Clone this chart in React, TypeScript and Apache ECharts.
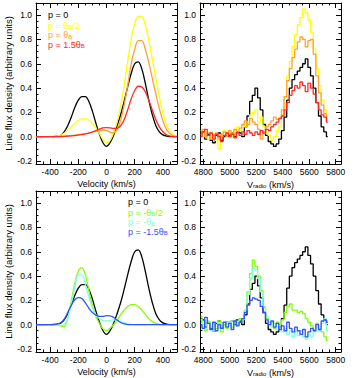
import React, { useEffect, useRef } from 'react';
import * as echarts from 'echarts';

// ---------- model curves (left panels) ----------
const VEL = [
  -500, -475, -450, -425, -400, -375, -350, -325, -300, -275, -250, -225, -200, -175, -150, -125, -100, -75, -50, -25,
  0, 25, 50, 75, 100, 125, 150, 175, 200, 225, 250, 275, 300, 325, 350, 375, 400, 425, 450, 475, 500,
];
const MODEL_P0 = [
  0, 0, 0, 0, 0, 0.001, 0.004, 0.012, 0.04, 0.09, 0.16, 0.24, 0.3, 0.33, 0.33, 0.29, 0.21, 0.11, 0.02, -0.05,
  -0.08, -0.05, 0.01, 0.09, 0.18, 0.29, 0.41, 0.52, 0.6, 0.615, 0.56, 0.44, 0.3, 0.18, 0.09, 0.04, 0.015, 0.005, 0.001, 0, 0,
];
const MODEL_HALF = [
  0, 0, 0, 0, 0, 0.001, 0.004, 0.012, 0.028, 0.052, 0.08, 0.108, 0.132, 0.147, 0.148, 0.135, 0.108, 0.07, 0.025, -0.025,
  -0.05, -0.03, 0.03, 0.12, 0.25, 0.42, 0.62, 0.8, 0.93, 0.99, 0.99, 0.92, 0.79, 0.64, 0.48, 0.33, 0.2, 0.1, 0.045, 0.015, 0.004,
];
const MODEL_ONE = [
  0, 0, 0, 0, 0, 0, 0, 0.002, 0.004, 0.006, 0.009, 0.012, 0.016, 0.02, 0.025, 0.031, 0.038, 0.045, 0.052, 0.055,
  0.05, 0.038, 0.03, 0.06, 0.13, 0.26, 0.42, 0.6, 0.72, 0.79, 0.79, 0.72, 0.61, 0.48, 0.35, 0.23, 0.13, 0.06, 0.025, 0.008, 0.002,
];
const MODEL_ONEHALF = [
  0, 0, 0, 0, 0, 0, 0, 0.001, 0.002, 0.004, 0.006, 0.009, 0.012, 0.017, 0.023, 0.03, 0.038, 0.05, 0.062, 0.072,
  0.075, 0.073, 0.068, 0.068, 0.09, 0.14, 0.22, 0.31, 0.38, 0.415, 0.41, 0.37, 0.3, 0.22, 0.14, 0.08, 0.04, 0.015, 0.005, 0.001, 0,
];
const MODEL_NHALF = [
  0, 0, 0, 0, 0, 0, 0, -0.01, -0.015, 0.05, 0.19, 0.34, 0.44, 0.47, 0.41, 0.28, 0.16, 0.07, 0.01, -0.035,
  -0.05, -0.03, 0.0, 0.035, 0.08, 0.12, 0.15, 0.165, 0.165, 0.15, 0.12, 0.085, 0.05, 0.025, 0.01, 0.003, 0, 0, 0, 0, 0,
];
const MODEL_NONE = [
  0, 0, 0, 0, 0, 0, -0.003, -0.006, 0.0, 0.05, 0.17, 0.31, 0.41, 0.41, 0.33, 0.23, 0.14, 0.08, 0.05, 0.035,
  0.03, 0.035, 0.04, 0.038, 0.028, 0.016, 0.007, 0.002, 0, 0, 0, 0, 0, 0, 0, 0, 0, 0, 0, 0, 0,
];
const MODEL_NONEHALF = [
  0, 0, 0, 0, 0, 0.002, 0.005, 0.015, 0.045, 0.1, 0.16, 0.205, 0.222, 0.215, 0.18, 0.135, 0.1, 0.078, 0.068, 0.068,
  0.074, 0.073, 0.06, 0.038, 0.018, 0.006, 0.001, 0, 0, 0, 0, 0, 0, 0, 0, 0, 0, 0, 0, 0, 0,
];

// ---------- observed spectra (right panels) ----------
const VRAD = [
  4780, 4800, 4820, 4840, 4860, 4880, 4900, 4920, 4940, 4960, 4980, 5000, 5020, 5040, 5060, 5080, 5100, 5120, 5140, 5160,
  5180, 5200, 5220, 5240, 5260, 5280, 5300, 5320, 5340, 5360, 5380, 5400, 5420, 5440, 5460, 5480, 5500, 5520, 5540, 5560,
  5580, 5600, 5620, 5640, 5660, 5680, 5700, 5720, 5740,
];
const OBS_P0 = [
  0.03, 0.04, -0.02, 0.02, -0.03, -0.05, 0.01, 0.03, -0.03, 0.0, 0.02, 0.01, 0.03, 0.0, 0.04, 0.03, 0.0, 0.08, 0.17, 0.29,
  0.34, 0.4, 0.32, 0.22, 0.1, 0.01, -0.04, -0.06, -0.08, -0.06, -0.02, 0.05, 0.16, 0.3, 0.4, 0.47, 0.51, 0.54, 0.57, 0.6,
  0.64, 0.57, 0.5, 0.4, 0.28, 0.17, 0.08, 0.04, 0.0,
];
const OBS_HALF = [
  0.05, 0.0, 0.03, -0.02, 0.04, 0.0, -0.03, -0.1, 0.0, 0.05, 0.02, 0.04, 0.0, 0.05, 0.08, 0.05, 0.1, 0.08, 0.12, 0.18,
  0.2, 0.22, 0.12, 0.16, 0.08, 0.03, 0.01, -0.03, 0.0, 0.05, 0.08, 0.18, 0.32, 0.5, 0.62, 0.74, 0.84, 0.92, 0.98, 1.05,
  1.02, 0.96, 0.86, 0.72, 0.56, 0.42, 0.3, 0.22, 0.15,
];
const OBS_ONE = [
  0.02, 0.06, 0.0, 0.03, -0.02, 0.01, 0.03, -0.02, 0.02, 0.04, 0.0, 0.05, 0.03, 0.06, 0.04, 0.07, 0.1, 0.13, 0.1, 0.15,
  0.12, 0.1, 0.06, -0.02, 0.04, 0.08, 0.1, 0.13, 0.16, 0.14, 0.15, 0.22, 0.33, 0.46, 0.56, 0.65, 0.72, 0.78, 0.82, 0.8,
  0.74, 0.79, 0.8, 0.68, 0.5, 0.36, 0.26, 0.19, 0.13,
];
const OBS_ONEHALF = [
  0.0, 0.04, 0.06, 0.01, 0.03, -0.02, 0.02, 0.0, -0.04, 0.01, 0.03, 0.0, 0.02, -0.01, 0.03, 0.01, 0.04, 0.02, 0.05, 0.03,
  0.01, 0.04, 0.02, 0.05, 0.03, 0.06, 0.05, 0.08, 0.1, 0.12, 0.15, 0.17, 0.22, 0.28, 0.34, 0.38, 0.42, 0.4, 0.45, 0.42,
  0.37, 0.44, 0.4, 0.35, 0.28, 0.22, 0.18, 0.16, 0.12,
];
const OBS_NHALF = [
  0.07, -0.02, -0.05, 0.02, -0.04, 0.01, -0.03, 0.03, -0.06, 0.0, -0.03, 0.02, -0.02, 0.03, 0.0, 0.05, 0.04, 0.12, 0.27, 0.42,
  0.53, 0.48, 0.4, 0.28, 0.14, 0.05, 0.0, 0.02, -0.03, 0.02, 0.0, 0.04, 0.1, 0.15, 0.17, 0.12, 0.12, 0.1, 0.11, 0.09,
  0.05, 0.02, -0.01, -0.04, 0.01, -0.05, -0.06, -0.1, -0.13,
];
const OBS_NONE = [
  0.04, 0.0, -0.04, 0.03, -0.02, -0.05, 0.02, -0.03, 0.01, -0.02, 0.02, 0.0, 0.03, -0.01, 0.02, 0.04, 0.05, 0.12, 0.25, 0.38,
  0.46, 0.45, 0.38, 0.27, 0.15, 0.07, 0.02, -0.02, 0.01, -0.04, -0.02, -0.06, -0.03, -0.08, -0.05, -0.1, -0.06, -0.09, -0.05, -0.1,
  -0.12, -0.08, -0.1, -0.06, -0.02, -0.05, 0.01, 0.05, -0.05,
];
const OBS_NONEHALF = [
  0.0, -0.03, 0.06, 0.01, -0.04, 0.02, -0.05, 0.0, -0.03, 0.02, -0.02, 0.01, -0.04, 0.03, -0.01, 0.02, 0.05, 0.1, 0.16, 0.2,
  0.22, 0.21, 0.2, 0.15, 0.1, 0.04, 0.0, 0.03, -0.02, 0.01, -0.04, -0.01, -0.05, 0.02, -0.03, -0.06, -0.02, -0.05, -0.08, -0.04,
  -0.1, -0.06, -0.03, -0.05, 0.0, -0.04, 0.03, 0.04, 0.02,
];

// ---------- ticks ----------
const X_LEFT_TICKS = [-400, -200, 0, 200, 400];
const X_RIGHT_TICKS = [4800, 5000, 5200, 5400, 5600, 5800];
const Y_TICKS = [-0.2, 0, 0.2, 0.4, 0.6, 0.8, 1.0];

const C = {
  black: '#000000',
  yellow: '#ffff00',
  orange: '#ffa033',
  red: '#ff2828',
  green: '#80ff00',
  cyan: '#80ffdc',
  blue: '#3052ff',
};

const FONT = '"Liberation Sans", Arial, Helvetica, sans-serif';
const Y_MIN = -0.225;
const Y_MAX = 1.1;
const L_MIN = -500;
const L_MAX = 500;
const R_MIN = 4775;
const R_MAX = 5840;

const GRIDS = [
  { left: 36, top: 3, width: 141, height: 161 },
  { left: 200, top: 3, width: 141, height: 161 },
  { left: 36, top: 191, width: 141, height: 161 },
  { left: 200, top: 191, width: 141, height: 161 },
];

function minorTicks(from: number, to: number, step: number, scale: number, majors: number[]) {
  const out: number[] = [];
  const a = Math.round(from * scale);
  const b = Math.round(to * scale);
  const s = Math.round(step * scale);
  for (let v = a; v <= b; v += s) {
    const val = v / scale;
    if (!majors.some((m) => Math.abs(m - val) < 1e-9)) out.push(val);
  }
  return out;
}

const tickLine = { color: '#000', width: 1 };

function xAxes(gi: number, min: number, max: number, majors: number[], minors: number[], name: string, rich?: any) {
  const base: any = {
    type: 'value',
    gridIndex: gi,
    min,
    max,
    splitLine: { show: false },
    offset: 0,
  };
  return [
    {
      ...base,
      position: 'bottom',
      axisLine: { show: true, onZero: false, lineStyle: tickLine },
      axisTick: { show: true, inside: true, length: 5, customValues: majors, lineStyle: tickLine },
      axisLabel: {
        show: true,
        customValues: majors,
        margin: 3,
        fontSize: 8.5,
        color: '#000',
        fontFamily: FONT,
        formatter: (v: number) => String(v),
      },
      name,
      nameLocation: 'middle',
      nameGap: 15,
      nameTextStyle: { fontSize: 9, color: '#000', fontFamily: FONT, rich },
    },
    {
      ...base,
      position: 'bottom',
      axisLine: { show: false, onZero: false },
      axisTick: { show: true, inside: true, length: 2.5, customValues: minors, lineStyle: tickLine },
      axisLabel: { show: false },
    },
    {
      ...base,
      position: 'top',
      axisLine: { show: true, onZero: false, lineStyle: tickLine },
      axisTick: { show: true, inside: true, length: 5, customValues: majors, lineStyle: tickLine },
      axisLabel: { show: false },
    },
    {
      ...base,
      position: 'top',
      axisLine: { show: false, onZero: false },
      axisTick: { show: true, inside: true, length: 2.5, customValues: minors, lineStyle: tickLine },
      axisLabel: { show: false },
    },
  ];
}

function yAxes(gi: number, majors: number[], minors: number[], name: string) {
  const base: any = {
    type: 'value',
    gridIndex: gi,
    min: Y_MIN,
    max: Y_MAX,
    splitLine: { show: false },
    offset: 0,
  };
  return [
    {
      ...base,
      position: 'left',
      axisLine: { show: true, onZero: false, lineStyle: tickLine },
      axisTick: { show: true, inside: true, length: 5, customValues: majors, lineStyle: tickLine },
      axisLabel: {
        show: true,
        customValues: majors,
        margin: 4,
        fontSize: 8.5,
        color: '#000',
        fontFamily: FONT,
        formatter: (v: number) => v.toFixed(1),
      },
      name,
      nameLocation: 'middle',
      nameGap: 21,
      nameTextStyle: { fontSize: 9.5, color: '#000', fontFamily: FONT },
    },
    {
      ...base,
      position: 'left',
      axisLine: { show: false, onZero: false },
      axisTick: { show: true, inside: true, length: 2.5, customValues: minors, lineStyle: tickLine },
      axisLabel: { show: false },
    },
    {
      ...base,
      position: 'right',
      axisLine: { show: true, onZero: false, lineStyle: tickLine },
      axisTick: { show: true, inside: true, length: 5, customValues: majors, lineStyle: tickLine },
      axisLabel: { show: false },
    },
    {
      ...base,
      position: 'right',
      axisLine: { show: false, onZero: false },
      axisTick: { show: true, inside: true, length: 2.5, customValues: minors, lineStyle: tickLine },
      axisLabel: { show: false },
    },
  ];
}

const pairs = (xs: number[], ys: number[]) => xs.map((x, i) => [x, ys[i]]);

function lineSeries(name: string, xs: number[], ys: number[], color: string, gi: number, step: boolean) {
  return {
    type: 'line',
    name,
    xAxisIndex: gi * 4,
    yAxisIndex: gi * 4,
    data: pairs(xs, ys),
    showSymbol: false,
    symbol: 'none',
    smooth: step ? false : 0.35,
    step: step ? 'middle' : false,
    lineStyle: { color, width: 1.3 },
    itemStyle: { color },
    silent: true,
    z: 2,
  };
}

function legendText(x: number, y: number, text: string, color: string) {
  return {
    type: 'text',
    x,
    y,
    style: {
      text,
      fill: color,
      fontSize: 9,
      fontFamily: FONT,
      verticalAlign: 'middle',
      rich: {
        s: { fontSize: 6, fill: color, fontFamily: FONT, verticalAlign: 'bottom', padding: [5, 0, 0, 0] },
        n: { fontSize: 9, fill: color, fontFamily: FONT, verticalAlign: 'bottom' },
      },
    },
  };
}

function buildOption(): any {
  const xLeftMinor = minorTicks(L_MIN, L_MAX, 50, 1, X_LEFT_TICKS);
  const xRightMinor = minorTicks(4800, 5800, 50, 1, X_RIGHT_TICKS);
  const yMinor = minorTicks(-0.2, 1.1, 0.05, 100, Y_TICKS);
  const yTitle = 'Line flux density (arbitrary units)';
  const vRich = {
    v: { fontSize: 9, fontFamily: FONT, color: '#000', verticalAlign: 'bottom' },
    s: { fontSize: 6, fontFamily: FONT, color: '#000', verticalAlign: 'bottom', padding: [4, 0, 0, 0] },
  };
  const vName = '{v|V}{s|radio}{v| (km/s)}';

  const xAxis = [
    ...xAxes(0, L_MIN, L_MAX, X_LEFT_TICKS, xLeftMinor, 'Velocity (km/s)'),
    ...xAxes(1, R_MIN, R_MAX, X_RIGHT_TICKS, xRightMinor, vName, vRich),
    ...xAxes(2, L_MIN, L_MAX, X_LEFT_TICKS, xLeftMinor, 'Velocity (km/s)'),
    ...xAxes(3, R_MIN, R_MAX, X_RIGHT_TICKS, xRightMinor, vName, vRich),
  ];
  const yAxis = [
    ...yAxes(0, Y_TICKS, yMinor, yTitle),
    ...yAxes(1, Y_TICKS, yMinor, ''),
    ...yAxes(2, Y_TICKS, yMinor, yTitle),
    ...yAxes(3, Y_TICKS, yMinor, ''),
  ];

  const series = [
    lineSeries('p = 0', VEL, MODEL_P0, C.black, 0, false),
    lineSeries('p = θB/2', VEL, MODEL_HALF, C.yellow, 0, false),
    lineSeries('p = θB', VEL, MODEL_ONE, C.orange, 0, false),
    lineSeries('p = 1.5θB', VEL, MODEL_ONEHALF, C.red, 0, false),

    lineSeries('p = 0 obs', VRAD, OBS_P0, C.black, 1, true),
    lineSeries('p = θB/2 obs', VRAD, OBS_HALF, C.yellow, 1, true),
    lineSeries('p = θB obs', VRAD, OBS_ONE, C.orange, 1, true),
    lineSeries('p = 1.5θB obs', VRAD, OBS_ONEHALF, C.red, 1, true),

    lineSeries('p = 0 b', VEL, MODEL_P0, C.black, 2, false),
    lineSeries('p = -θB/2', VEL, MODEL_NHALF, C.green, 2, false),
    lineSeries('p = -θB', VEL, MODEL_NONE, C.cyan, 2, false),
    lineSeries('p = -1.5θB', VEL, MODEL_NONEHALF, C.blue, 2, false),

    lineSeries('p = 0 obs b', VRAD, OBS_P0, C.black, 3, true),
    lineSeries('p = -θB/2 obs', VRAD, OBS_NHALF, C.green, 3, true),
    lineSeries('p = -θB obs', VRAD, OBS_NONE, C.cyan, 3, true),
    lineSeries('p = -1.5θB obs', VRAD, OBS_NONEHALF, C.blue, 3, true),
  ];

  const graphic = [
    legendText(48, 15, '{n|p = 0}', C.black),
    legendText(48, 24.5, '{n|p = θ}{s|B}{n|/2}', C.yellow),
    legendText(48, 34, '{n|p = θ}{s|B}', C.orange),
    legendText(48, 43.5, '{n|p = 1.5θ}{s|B}', C.red),
    legendText(128, 202, '{n|p = 0}', C.black),
    legendText(128, 211.5, '{n|p = -θ}{s|B}{n|/2}', C.green),
    legendText(128, 221, '{n|p = -θ}{s|B}', C.cyan),
    legendText(128, 230.5, '{n|p = -1.5θ}{s|B}', C.blue),
  ];

  return {
    animation: false,
    backgroundColor: '#ffffff',
    textStyle: { fontFamily: FONT },
    grid: GRIDS.map((g) => ({ ...g, containLabel: false })),
    xAxis,
    yAxis,
    series,
    graphic,
  };
}

export default function App() {
  const ref = useRef<HTMLDivElement>(null);
  useEffect(() => {
    document.body.style.margin = '0';
    const chart = echarts.init(ref.current!, null, { renderer: 'svg' });
    chart.setOption(buildOption());
    return () => chart.dispose();
  }, []);
  return <div ref={ref} style={{ width: 354, height: 378 }} />;
}
